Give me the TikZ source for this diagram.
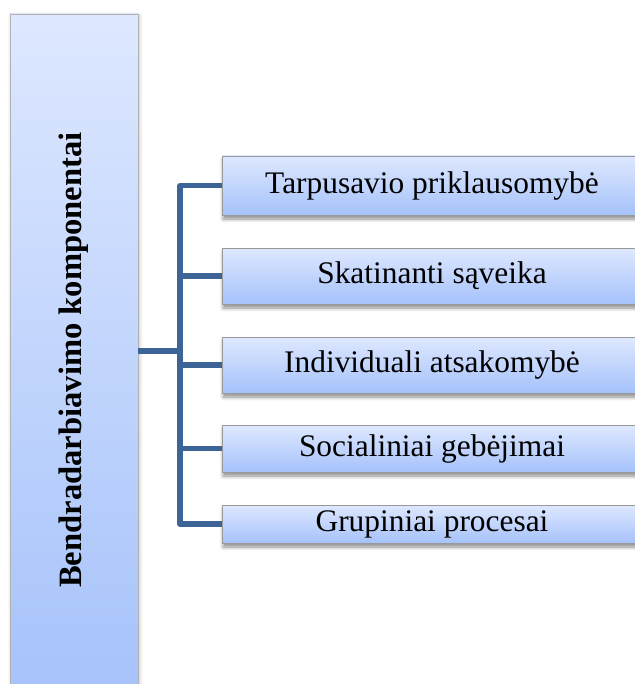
\documentclass[tikz,border=0pt]{standalone}
\usepackage{fontspec}
\setmainfont{Liberation Serif}
\usetikzlibrary{shadows.blur}
\definecolor{boxtop}{HTML}{DEE8FF}
\definecolor{boxbot}{HTML}{A5C2FA}
\definecolor{linkblue}{HTML}{3C6496}
\begin{document}
\begin{tikzpicture}[x=0.5pt, y=-0.5pt,
	part/.style={draw=gray!80, top color=boxtop, bottom color=boxbot, inner sep=0pt,
		minimum width=210pt, font=\fontsize{15.7}{18}\selectfont,
		blur shadow={shadow xshift=0.6pt, shadow yshift=-2pt, shadow blur steps=5, shadow opacity=45}},
	link/.style={draw=linkblue, line width=2.6pt}]
	\useasboundingbox (0,0) rectangle (635,684);
	\clip (0,0) rectangle (635,684);

	\node[draw=gray!60, top color=boxtop, bottom color=boxbot, inner sep=0pt,
		minimum width=64pt, minimum height=346pt,
		blur shadow={shadow xshift=0.6pt, shadow yshift=-0.6pt, shadow blur steps=4, shadow opacity=25}]
		(main) at (74,360) {\rotatebox{90}{\fontsize{16.3}{19}\selectfont\bfseries Bendradarbiavimo komponentai}};

	\foreach \y/\h/\txt [count=\i] in {185.5/29.5/Tarpusavio priklausomybė, 276/28/Skatinanti sąveika,
		365/28/Individuali atsakomybė, 448.5/23.5/Socialiniai gebėjimai, 524/19/Grupiniai procesai} {
		\node[part, minimum height=\h pt] (b\i) at (432,\y) {\txt};
	}

	\coordinate (trunk) at (180,351);
	\draw[link] (main.east |- trunk) -- (trunk);
	\draw[link, line join=round] (b1.west) -- (trunk |- b1.west) -- (trunk |- b5.west) -- (b5.west);
	\foreach \i in {2,3,4} {
		\draw[link] (trunk |- b\i.west) -- (b\i.west);
	}
\end{tikzpicture}
\end{document}
